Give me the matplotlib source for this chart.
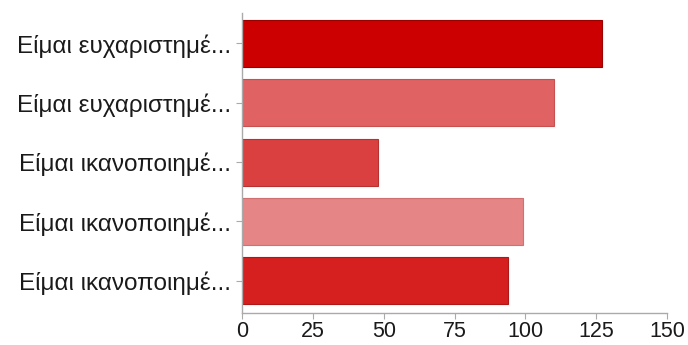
import matplotlib
matplotlib.use("Agg")
import matplotlib.pyplot as plt

labels = [
    "Είμαι ευχαριστημέ...",
    "Είμαι ευχαριστημέ...",
    "Είμαι ικανοποιημέ...",
    "Είμαι ικανοποιημέ...",
    "Είμαι ικανοποιημέ...",
]
values = [127, 110, 48, 99, 94]
colors = ["#cc0000", "#e06262", "#db4040", "#e68585", "#d61f1f"]
edges = ["#9a0000", "#c85050", "#b83030", "#d07070", "#b01818"]
xticks = [0, 25, 50, 75, 100, 125, 150]

plt.rcParams["font.family"] = ["Liberation Sans", "DejaVu Sans"]

fig = plt.figure(figsize=(6.88, 3.45), dpi=100)
ax = fig.add_axes([0.352, 0.093, 0.6175, 0.869])

pos = list(range(len(values)))
ax.barh(pos, values, height=0.79, color=colors, edgecolor=edges, linewidth=0.8)

ax.set_ylim(len(values) - 0.46, -0.51)
ax.set_xlim(0, 150)
ax.set_yticks(pos)
ax.set_yticklabels(labels, fontsize=17.5, color="#1a1a1a")
ax.set_xticks(xticks)
ax.set_xticklabels([str(t) for t in xticks], fontsize=15.5, color="#1a1a1a")

for s in ["top", "right"]:
    ax.spines[s].set_visible(False)
for s in ["left", "bottom"]:
    ax.spines[s].set_color("#aaaaaa")
    ax.spines[s].set_linewidth(1.0)
ax.tick_params(axis="both", colors="#aaaaaa", labelcolor="#1a1a1a", length=4, width=0.8)
ax.tick_params(axis="y", pad=4)
ax.tick_params(axis="x", pad=2)

fig.savefig("out.png", dpi=100)
